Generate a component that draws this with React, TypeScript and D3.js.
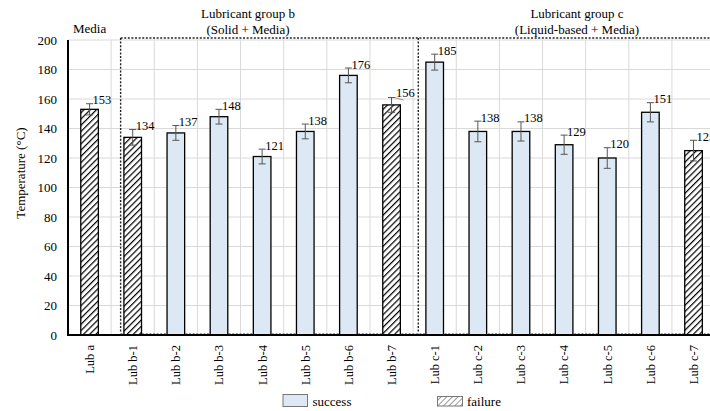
import React from "react";
import * as d3 from "d3";

const categories = [
  "Lub a", "Lub b-1", "Lub b-2", "Lub b-3", "Lub b-4", "Lub b-5", "Lub b-6", "Lub b-7",
  "Lub c-1", "Lub c-2", "Lub c-3", "Lub c-4", "Lub c-5", "Lub c-6", "Lub c-7",
];
const temperatures = [153, 134, 137, 148, 121, 138, 176, 156, 185, 138, 138, 129, 120, 151, 125];
const errors = [3.8, 5.3, 5, 5, 5, 5, 5, 5, 5.4, 7, 6.5, 6.5, 7, 6.5, 7];
const outcomes = [
  "failure", "failure", "success", "success", "success", "success", "success", "failure",
  "success", "success", "success", "success", "success", "success", "failure",
];
const yTicks = [0, 20, 40, 60, 80, 100, 120, 140, 160, 180, 200];
const legendItems = ["success", "failure"];
// labels that carry a short leader line to their bar
const leaderLabels = ["Lub b-7"];

const W = 710;
const H = 411;
const left = 68;
const top = 40;
const bottom = 335;
const step = 43.14;
const serif = "'Liberation Serif', 'Times New Roman', serif";
const successFill = "#dce8f4";

export default function App() {
  const x = d3
    .scaleBand<string>()
    .domain(categories)
    .range([left, left + step * categories.length])
    .padding(0);
  const y = d3.scaleLinear().domain([0, 200]).range([bottom, top]);
  const bw = 17.6;
  const cx = (c: string) => (x(c) as number) + x.bandwidth() / 2;

  // group box positions in category units (centre of index 0 = 0)
  const idx = (v: number) => cx(categories[0]) + v * x.step();
  const boxB = idx(0.72);
  const boxSplit = idx(7.62);
  const boxTop = 38;
  const boxBottom = 333.5;
  const txt = { fontFamily: serif };

  return (
    <svg
      width={W}
      height={H}
      style={{ position: "absolute", left: 0, top: 0, background: "#fff", fontFamily: serif }}
    >
      <defs>
        <pattern id="hatch" width="4.4" height="4.4" patternUnits="userSpaceOnUse" patternTransform="rotate(45)">
          <rect width="4.4" height="4.4" fill="#fff" />
          <line x1="0" y1="0" x2="0" y2="4.4" stroke="#000" strokeWidth="2.4" />
        </pattern>
        <pattern id="hatchLegend" width="4" height="4" patternUnits="userSpaceOnUse" patternTransform="rotate(45)">
          <rect width="4" height="4" fill="#fff" />
          <line x1="0" y1="0" x2="0" y2="4" stroke="#333" strokeWidth="1" />
        </pattern>
      </defs>

      {/* horizontal grid */}
      {yTicks.map((t) => (
        <line key={"h" + t} x1={left} x2={W} y1={y(t)} y2={y(t)} stroke="#d9d9d9" strokeWidth={1} />
      ))}
      {/* vertical grid at category boundaries */}
      {categories.map((c, i) =>
        i === 0 ? null : (
          <line key={"v" + c} x1={x(c)} x2={x(c)} y1={top} y2={bottom} stroke="#d9d9d9" strokeWidth={1} />
        )
      )}

      {/* group boxes */}
      <g stroke="#222" strokeWidth={1.4} strokeDasharray="2,1.6" fill="none">
        <line x1={boxB} x2={W} y1={boxTop} y2={boxTop} />
        <line x1={boxB} x2={boxB} y1={boxTop} y2={boxBottom} />
        <line x1={boxSplit} x2={boxSplit} y1={boxTop} y2={boxBottom} />
      </g>
      <line x1={boxB} x2={W} y1={boxBottom} y2={boxBottom} stroke="#999" strokeWidth={1.2} strokeDasharray="2,1.6" />

      {/* bars */}
      {categories.map((c, i) => (
        <rect
          key={"b" + c}
          x={cx(c) - bw / 2}
          y={y(temperatures[i])}
          width={bw}
          height={bottom - y(temperatures[i])}
          fill={outcomes[i] === "failure" ? "url(#hatch)" : successFill}
          stroke="#000"
          strokeWidth={1.3}
        />
      ))}

      {/* error bars */}
      {categories.map((c, i) => {
        const hi = y(temperatures[i] + errors[i]);
        const lo = y(temperatures[i] - errors[i]);
        const xc = cx(c);
        return (
          <g key={"e" + c} stroke="#555" strokeWidth={1}>
            <line x1={xc} x2={xc} y1={hi} y2={lo} />
            <line x1={xc - 3.5} x2={xc + 3.5} y1={hi} y2={hi} />
            <line x1={xc - 3.5} x2={xc + 3.5} y1={lo} y2={lo} />
          </g>
        );
      })}

      {/* value labels */}
      {categories.map((c, i) => {
        const cap = y(temperatures[i] + errors[i]);
        const lead = leaderLabels.includes(c);
        return (
          <g key={"l" + c}>
            {lead && (
              <line x1={cx(c) + 3} x2={cx(c) + 12} y1={cap} y2={cap + 2.5} stroke="#777" strokeWidth={0.8} />
            )}
            <text x={cx(c) + (lead ? 4.5 : 3)} y={cap + (lead ? -0.5 : 0.5)} fontSize={12.5} fill="#000" style={txt}>
              {temperatures[i]}
            </text>
          </g>
        );
      })}

      {/* axes */}
      <line x1={left} x2={left} y1={top} y2={bottom + 1} stroke="#000" strokeWidth={2} />
      <line x1={left - 1} x2={W} y1={bottom} y2={bottom} stroke="#000" strokeWidth={2} />

      {yTicks.map((t) => (
        <text key={"t" + t} x={57} y={y(t)} dy="0.35em" textAnchor="end" fontSize={13} fill="#000" style={txt}>
          {t}
        </text>
      ))}
      <text
        transform={`translate(20,173) rotate(-90)`}
        textAnchor="middle"
        dy="0.35em"
        fontSize={13}
        fill="#000"
        style={txt}
      >
        Temperature (°C)
      </text>

      {categories.map((c) => (
        <text
          key={"x" + c}
          transform={`translate(${cx(c)},345) rotate(-90)`}
          textAnchor="end"
          dy="0.35em"
          fontSize={12.5}
          fill="#000"
          style={txt}
        >
          {c}
        </text>
      ))}

      {/* group headings */}
      <g fontSize={13} fill="#000" textAnchor="middle" style={txt}>
        <text x={cx(categories[0])} y={28} dy="0.35em" style={txt}>Media</text>
        <text x={248} y={13} dy="0.35em" style={txt}>Lubricant group b</text>
        <text x={248} y={29} dy="0.35em" style={txt}>(Solid + Media)</text>
        <text x={577} y={13} dy="0.35em" style={txt}>Lubricant group c</text>
        <text x={577} y={29} dy="0.35em" style={txt}>(Liquid-based + Media)</text>
      </g>

      {/* legend */}
      {legendItems.map((item, i) => {
        const lx = i === 0 ? 283 : 437.5;
        return (
          <g key={"lg" + item}>
            <rect
              x={lx}
              y={i === 0 ? 394.5 : 396.5}
              width={i === 0 ? 24.5 : 25}
              height={i === 0 ? 12 : 9.5}
              fill={item === "success" ? successFill : "url(#hatchLegend)"}
              stroke="#777"
              strokeWidth={1}
            />
            <text x={lx + 29.5} y={401} dy="0.35em" fontSize={13} fill="#000" style={txt}>
              {item}
            </text>
          </g>
        );
      })}
    </svg>
  );
}
